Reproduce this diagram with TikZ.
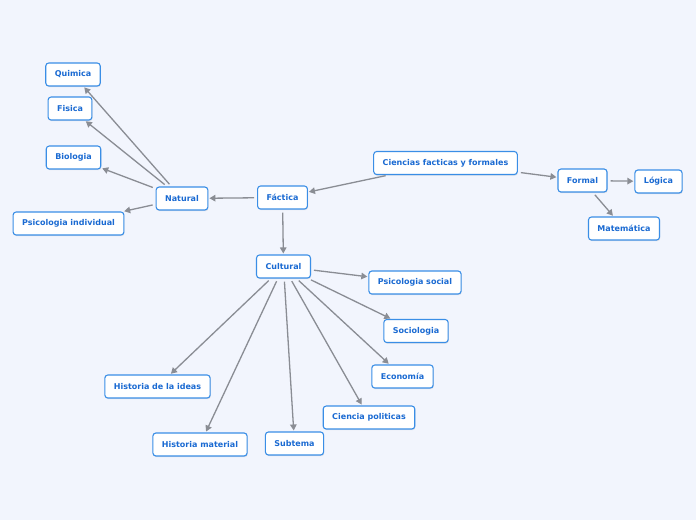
\documentclass[tikz,border=0pt]{standalone}
\usepackage{fontspec}
\setmainfont{DejaVu Sans}
\usetikzlibrary{arrows.meta,shadows}
\definecolor{bg}{HTML}{F2F5FD}
\definecolor{boxline}{HTML}{3A8EE6}
\definecolor{boxtext}{HTML}{1A6AD2}
\definecolor{link}{HTML}{8A8D94}
\begin{document}
\begin{tikzpicture}[x=1pt, y=-1pt,
  every node/.style={rectangle, rounded corners=3pt, draw=boxline, line width=1.1pt, fill=white,
    text=boxtext, font=\fontsize{8}{9}\selectfont\bfseries, minimum height=23pt, inner xsep=9pt,
    drop shadow={opacity=0.18, shadow xshift=0.6pt, shadow yshift=-1.2pt}},
  edge/.style={draw=link, line width=1.3pt, -{Triangle[length=6pt,width=6.5pt]}, shorten >=1pt, shorten <=3pt}]
\fill[bg] (0,0) rectangle (696,520);
\useasboundingbox (0,0) rectangle (696,520);
% Root and the formal side
\node (C) at (445.5,163) {Ciencias facticas y formales};
\node (F) at (582.5,180.5) {Formal};
\node (L) at (658.5,181.5) {Lógica};
\node (M) at (624,228.5) {Matemática};
% Factual side
\node (Fa) at (282.5,197.5) {Fáctica};
\node (N) at (182,198.5) {Natural};
\node (Cu) at (283.5,266.5) {Cultural};
% Natural sciences
\node (Q) at (73,74.5) {Quimica};
\node (Fi) at (70,108.5) {Fisica};
\node (B) at (73.5,157.5) {Biologia};
\node (Pi) at (68.5,223.5) {Psicologia individual};
% Cultural sciences
\node (Ps) at (415,282.5) {Psicologia social};
\node (S) at (416,331) {Sociologia};
\node (E) at (402.5,376.5) {Economía};
\node (Cp) at (369,417.5) {Ciencia politicas};
\node (Su) at (294.5,443.5) {Subtema};
\node (Hm) at (200,444.5) {Historia material};
\node (Hi) at (157.5,386.5) {Historia de la ideas};
% All edges
\draw[edge] (C) -- (Fa);
\draw[edge] (C) -- (F);
\foreach \v in {L, M}
    \draw[edge] (F) -- (\v);
\foreach \v in {N, Cu}
    \draw[edge] (Fa) -- (\v);
\foreach \v in {Q, Fi, B, Pi}
    \draw[edge] (N) -- (\v);
\foreach \v in {Ps, S, E, Cp, Su, Hm, Hi}
    \draw[edge] (Cu) -- (\v);
\end{tikzpicture}
\end{document}
